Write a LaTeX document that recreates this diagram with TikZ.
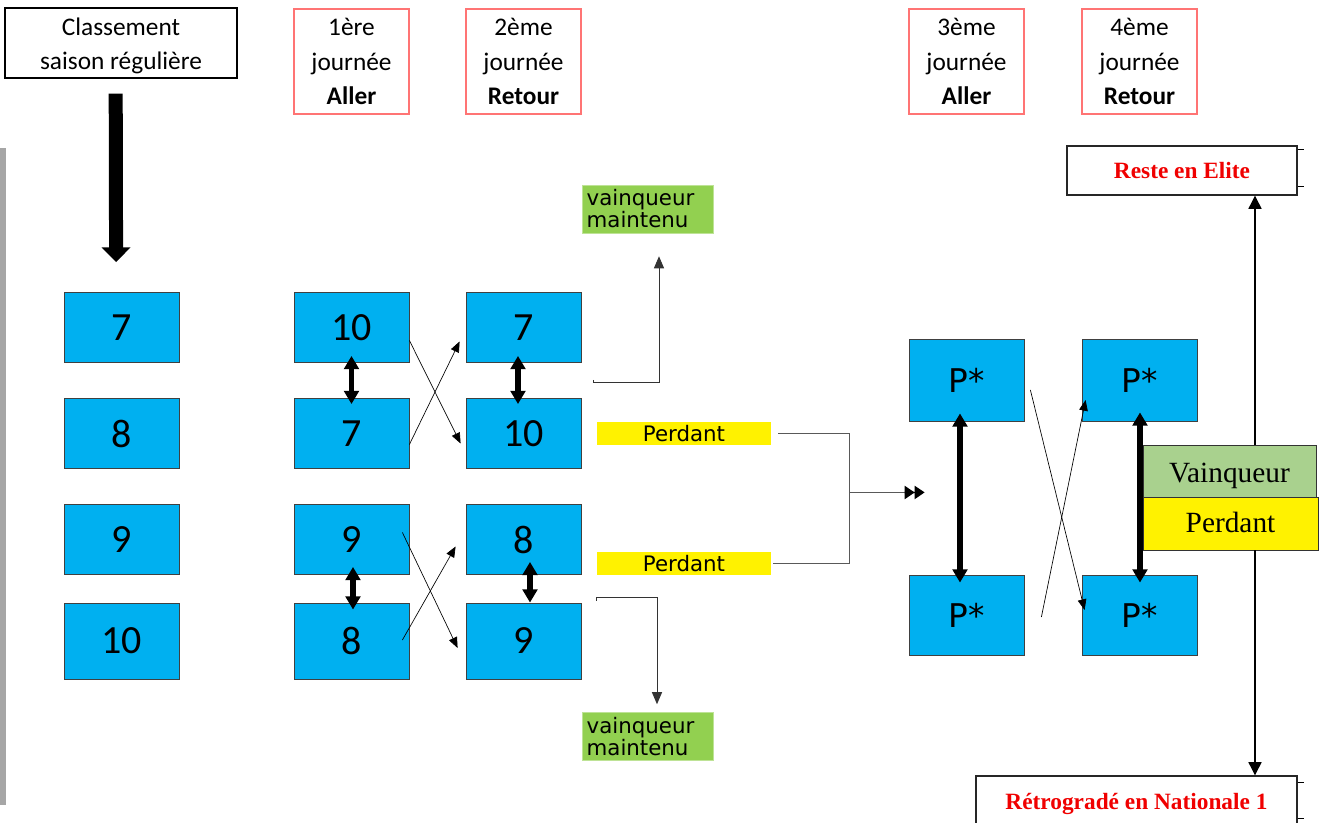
\documentclass[tikz,border=0pt]{standalone}
\usepackage{fontspec}
\setmainfont{Carlito}
\newfontfamily\dejavu{DejaVu Sans}
\newfontfamily\timesf{Liberation Serif}
\usetikzlibrary{arrows.meta,calc}
\definecolor{boxblue}{HTML}{00B0F0}
\definecolor{headred}{HTML}{FF7474}
\definecolor{wingreen}{HTML}{92D050}
\definecolor{palegreen}{HTML}{A9D18E}
\definecolor{textred}{HTML}{F00000}
\newcommand{\lowered}[2]{\raisebox{-#1}[0pt][0pt]{#2}}
\tikzset{
  numbox/.style={draw=black!75, line width=0.6pt, fill=boxblue, minimum width=86.25pt, minimum height=52.5pt, inner sep=0pt, font=\fontsize{30}{31}\selectfont},
  pbox/.style={numbox, font=\dejavu\fontsize{24.5}{26}\selectfont},
  dayhead/.style={draw=headred, line width=0.8pt, minimum width=86.25pt, minimum height=78.75pt, inner sep=0pt, align=center, font=\fontsize{19}{26}\selectfont},
  winbox/.style={fill=wingreen, draw=wingreen!60!white, line width=0.4pt, minimum width=98.25pt, minimum height=36pt, inner xsep=3.5pt, inner ysep=0pt, text width=91.25pt, align=left, font=\dejavu\fontsize{16}{13}\selectfont},
  losebox/.style={fill=yellow, minimum width=130.5pt, minimum height=17.25pt, inner sep=0pt, font=\dejavu\fontsize{16}{18}\selectfont},
  resultbox/.style={draw=black!85, line width=0.8pt, fill=white, inner sep=0pt, text=textred, font=\timesf\bfseries\fontsize{17.5}{20}\selectfont},
  finalbox/.style={draw=black!80, line width=0.6pt, inner sep=0pt, font=\timesf\fontsize{22}{24}\selectfont},
  bigdown/.style={line width=10.5pt, -{Triangle[width=21pt,length=11pt]}, shorten <=11.25pt, shorten >=22.5pt},
  duel/.style={{Triangle[width=11pt,length=10pt]}-{Triangle[width=11pt,length=10pt]}, line width=4pt},
  swap/.style={-{Triangle[width=6.5pt,length=8pt]}, line width=0.5pt},
  elbow/.style={-{Triangle[width=7.5pt,length=9pt]}, line width=0.7pt, black!80},
  bracket/.style={line width=0.9pt, black!65},
  longline/.style={-{Triangle[width=9.5pt,length=10pt]}, line width=2pt},
}
\begin{document}
\begin{tikzpicture}[x=0.75pt, y=-0.75pt]
    \useasboundingbox (0,0) rectangle (1329,823);
    \fill[black!35] (0,148) rectangle (6,805);
    % en-tetes
    \node[draw, line width=1pt, minimum width=174pt, minimum height=52.5pt, inner sep=0pt, align=center, font=\fontsize{19}{25.5}\selectfont] (classement) at (121,43) {\lowered{7.5pt}{Classement}\\\lowered{7.5pt}{saison régulière}};
    \foreach \n/\x/\j/\t in {d1/351.5/1ère/Aller, d2/523.5/2ème/Retour, d3/966.5/3ème/Aller, d4/1139.5/4ème/Retour} {
        \node[dayhead] (\n) at (\x, 61.5) {\j\\journée\\\textbf{\t}};
    }
    % equipes
    \foreach \r/\y/\h/\a/\b/\c in {1/327.5/52.5pt/7/10/7, 2/433.5/52.5pt/8/7/10, 3/539.5/52.5pt/9/9/8, 4/641/57pt/10/8/9} {
        \node[numbox, minimum height=\h] (c1r\r) at (121.5, \y) {\a};
        \node[numbox, minimum height=\h] (c2r\r) at (351.5, \y) {\b};
        \node[numbox, minimum height=\h] (c3r\r) at (523.5, \y) {\c};
    }
    \foreach \r/\y/\h in {1/380/61.5pt, 2/615/60pt} {
        \node[pbox, minimum height=\h] (c4r\r) at (966.5, \y) {P*};
        \node[pbox, minimum height=\h] (c5r\r) at (1139.5, \y) {P*};
    }
    \node[winbox] (win1) at (647.5, 209) {vainqueur\\maintenu};
    \node[winbox] (win2) at (647.5, 736.5) {vainqueur\\maintenu};
    \node[losebox] (p1) at (684, 433.5) {Perdant};
    \node[losebox] (p2) at (684, 563.5) {Perdant};
    \node[finalbox, fill=palegreen, minimum width=129.75pt, minimum height=39pt] (vq) at (1229.5, 471) {\lowered{9pt}{Vainqueur}};
    \node[finalbox, fill=yellow, minimum width=131.25pt, minimum height=39.75pt] (pd) at (1230.5, 523.5) {\lowered{7.1pt}{Perdant}};
    \node[resultbox, minimum width=172.5pt, minimum height=36.75pt] (reste) at (1182, 170.5) {Reste en Elite};
    \node[resultbox, minimum width=240.75pt, minimum height=36.75pt] (retro) at (1136.5, 800.5) {\lowered{6.4pt}{Rétrogradé en Nationale 1}};
    \foreach \c/\a/\b in {reste/4/-9, retro/7/-7} {
        \draw[line width=0.5pt] ($(\c.north east)+(0,\a)$) -- ++(6,0);
        \draw[line width=0.5pt] ($(\c.south east)+(0,\b)$) -- ++(6,0);
    }
    % fleches
    \draw[bigdown] ([xshift=-4pt]classement.south) -- ([xshift=-4pt]c1r1.north);
    \draw[duel] ($(c2r1.south)+(0,-7)$) -- ($(c2r2.north)+(0,6)$);
    \draw[duel] ($(c3r1.south)+(-5.5,-7)$) -- ($(c3r2.north)+(-5.5,6)$);
    \draw[duel] ($(c2r3.south)+(1.5,-8)$) -- ($(c2r4.north)+(1.5,7)$);
    \draw[duel] ($(c3r3.south)+(6.5,-13)$) -- ($(c3r4.north)+(6.5,0)$);
    \draw[duel] ($(c4r1.south)+(-6.5,-8)$) -- ($(c4r2.north)+(-6.5,8)$);
    \draw[duel] ($(c5r1.south)+(0.5,-9)$) -- ($(c5r2.north)+(0.5,8)$);
    \draw[swap] ($(c2r1.east)+(0,13)$) -- ($(c3r2.west)+(-5,10)$);
    \draw[swap] ($(c2r2.east)+(0,11)$) -- ($(c3r1.west)+(-6,14)$);
    \draw[swap] ($(c2r3.east)+(-7,-7)$) -- ($(c3r4.west)+(-8,7)$);
    \draw[swap] ($(c2r4.east)+(-7,-1)$) -- ($(c3r3.west)+(-10,7)$);
    \draw[swap] ($(c4r1.east)+(6,10)$) -- ($(c5r2.west)+(3,-5)$);
    \draw[swap] ($(c4r2.east)+(17,2)$) -- ($(c5r1.west)+(4,20)$);
    \draw[elbow] ($(c3r1.south east)+(12,17)$) -- ++(0,3) -| ($(win1.south)+(11.5,23)$);
    \draw[elbow] ($(c3r4.north east)+(15,-2)$) -- ++(0,-3) -| ($(win2.north)+(9.5,-8)$);
    \coordinate (join) at ($(p1.east)+(78,59)$);
    \draw[bracket] ($(p1.east)+(7,0)$) -| (join) |- ($(p2.east)+(2,0)$);
    \draw[bracket] (join) -- ++(55,0);
    \draw[line width=0.9pt, -{Triangle[width=10pt,length=7.5pt] Triangle[width=10pt,length=7.5pt]}] ($(join)+(55,0)$) -- ($(c4r1.south west)+(16,71)$);
    \coordinate (mast) at ($(vq.north)+(25.5,0)$);
    \coordinate (mastlow) at ($(pd.south)+(24.5,0)$);
    \draw[longline] (mast) -- (mast |- reste.south);
    \draw[longline] (mastlow) -- (mastlow |- retro.north);
\end{tikzpicture}
\end{document}
